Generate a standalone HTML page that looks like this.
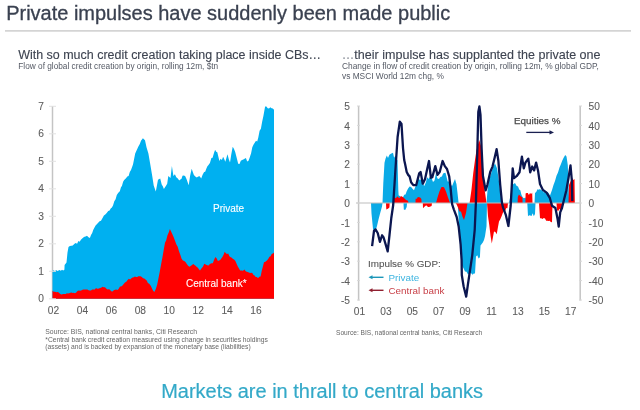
<!DOCTYPE html>
<html><head><meta charset="utf-8"><style>
html,body{margin:0;padding:0;background:#fff;}
body{width:640px;height:410px;overflow:hidden;position:relative;font-family:"Liberation Sans",sans-serif;}
svg{position:absolute;left:0;top:0;filter:blur(0.55px);}
svg text{font-family:"Liberation Sans",sans-serif;}
.ax{font-size:10.2px;fill:#5E5E5E;stroke:#5E5E5E;stroke-width:0.1px;}
.wl{font-size:10px;fill:#fff;stroke:#fff;stroke-width:0.1px;}
.lg{font-size:9.85px;}
</style></head><body>
<svg width="640" height="410" viewBox="0 0 640 410">
<text x="6.2" y="20" style="font-size:19.98px" fill="#3A4150" stroke="#3A4150" stroke-width="0.3">Private impulses have suddenly been made public</text>
<line x1="5" y1="30.8" x2="631" y2="30.8" stroke="#D4D4D4" stroke-width="1.7"/>
<text x="18.2" y="58.8" style="font-size:12.47px" fill="#3D4350" stroke="#3D4350" stroke-width="0.12">With so much credit creation taking place inside CBs…</text>
<text x="18.3" y="68.8" style="font-size:8.28px" fill="#555A65">Flow of global credit creation by origin, rolling 12m, $tn</text>
<text x="341.8" y="58.8" style="font-size:12.55px" fill="#3D4350" stroke="#3D4350" stroke-width="0.12"><tspan fill="#8A8F99" stroke="#8A8F99">…</tspan>their impulse has supplanted the private one</text>
<text x="342" y="68.8" style="font-size:8.35px" fill="#555A65">Change in flow of credit creation by origin, rolling 12m, % global GDP,</text>
<text x="342" y="78.8" style="font-size:8.35px" fill="#555A65">vs MSCI World 12m chg, %</text>
<line x1="52.5" y1="106" x2="52.5" y2="299" stroke="#C4C4C4" stroke-width="1.5"/>
<polygon points="52.5,298.8 52.5,270.7 53.7,270.3 54.9,271.3 56.1,270.1 57.3,271.0 58.5,270.6 59.6,269.9 60.8,270.8 62.0,269.8 63.2,270.6 64.4,269.8 64.6,264.9 66.5,262.6 67.5,252.4 68.5,247.0 69.9,246.1 71.4,245.8 72.8,245.4 74.2,244.0 75.7,243.1 77.1,243.7 78.4,240.9 79.7,241.8 80.9,239.8 82.2,238.6 83.3,237.4 84.5,236.7 85.6,236.6 87.0,235.8 88.5,237.2 89.9,237.9 91.0,235.1 92.2,233.1 93.3,229.8 94.5,227.6 95.6,225.6 96.8,224.3 98.2,222.7 99.6,221.3 101.0,220.7 102.4,218.2 103.9,215.6 105.3,214.4 106.7,213.0 108.2,210.9 109.6,210.4 110.7,208.6 111.9,207.6 113.0,205.6 114.3,201.2 115.6,199.2 116.8,194.9 118.1,193.0 119.8,191.3 120.9,187.5 122.0,185.7 123.1,181.8 124.2,180.1 126.0,178.3 127.3,176.6 128.6,176.0 129.8,172.1 131.0,170.1 133.0,164.5 135.2,153.5 137.0,149.6 138.5,146.3 139.8,144.1 141.0,140.7 142.9,138.3 145.0,140.3 146.5,147.2 148.4,153.6 150.0,162.8 152.2,175.8 153.7,185.4 155.8,191.6 158.0,179.7 160.2,178.5 161.7,184.6 162.8,186.3 163.9,189.1 166.0,185.8 167.2,183.7 168.3,175.9 170.5,177.9 171.9,166.0 173.4,176.0 174.9,174.2 176.3,177.3 177.8,178.4 179.2,180.6 180.3,179.6 181.4,179.0 182.5,175.8 183.6,175.6 185.1,176.1 186.5,179.1 188.7,185.3 190.2,175.3 191.7,168.8 192.8,172.0 193.9,174.9 195.3,176.4 196.8,177.4 198.2,176.5 199.7,176.2 201.2,178.6 202.6,174.8 204.1,172.0 205.2,171.7 206.3,168.8 207.4,166.3 208.5,164.9 209.9,162.9 211.4,158.1 212.6,157.7 213.9,153.3 215.1,149.8 216.2,151.7 217.3,152.2 219.4,161.0 220.6,158.8 221.9,160.0 223.1,156.7 224.2,158.9 225.3,161.7 227.5,154.2 228.8,159.3 230.0,162.5 231.3,154.2 232.7,146.7 233.9,148.7 235.2,151.9 237.0,159.0 238.2,163.8 239.5,164.0 240.8,160.8 242.1,159.9 243.3,159.5 244.6,158.7 245.9,158.1 247.2,161.5 248.5,160.8 249.8,157.3 251.1,153.2 252.3,147.3 253.6,144.4 254.9,142.4 256.0,140.7 257.2,141.6 258.3,137.4 259.6,130.8 260.9,128.7 262.1,122.0 263.4,116.1 265.1,106.6 266.4,106.4 267.7,108.3 269.0,108.4 270.3,107.3 271.6,108.2 272.8,108.6 274.0,109.7 274.0,298.8" fill="#00B0F0"/>
<polygon points="52.5,298.8 52.5,290.7 53.7,291.8 55.0,291.7 56.2,292.3 57.5,292.1 58.7,292.4 60.0,293.7 61.2,294.4 62.3,294.2 63.5,294.1 64.6,294.0 65.7,293.9 66.9,293.2 68.0,293.5 69.2,293.2 70.3,292.7 71.5,292.6 72.7,292.9 73.8,292.7 75.0,293.3 76.2,292.6 77.5,290.9 78.7,290.6 80.0,290.7 81.2,290.6 82.5,289.8 83.7,289.6 85.0,289.6 86.2,289.6 87.4,289.6 88.6,290.2 89.8,290.6 91.0,290.5 92.2,289.6 93.5,289.6 94.8,289.4 96.0,288.1 97.1,288.7 98.2,288.8 99.3,288.3 100.4,288.0 101.5,287.4 102.6,286.7 103.7,287.3 105.0,287.3 106.2,288.5 107.5,289.4 108.8,289.2 110.0,289.8 111.2,291.2 112.5,291.5 113.8,290.3 115.0,289.8 116.2,289.4 117.5,290.0 118.7,288.7 120.0,286.6 121.2,286.4 122.5,285.5 123.7,283.9 125.0,282.4 126.3,281.7 127.6,280.0 128.9,278.8 130.1,279.4 131.4,278.3 132.6,277.4 133.8,277.2 134.9,276.5 136.1,277.1 137.2,277.1 138.3,276.2 139.5,276.3 140.6,276.3 141.8,277.0 143.1,278.2 144.3,278.4 145.5,279.4 146.7,280.5 147.9,283.0 149.2,283.7 150.4,285.3 151.7,287.8 153.0,290.5 154.3,292.1 155.8,288.9 157.2,284.4 158.5,277.9 159.8,271.4 161.1,264.2 162.4,257.6 163.7,250.1 165.0,242.7 166.2,240.2 167.4,235.6 168.7,232.4 169.9,229.1 171.2,231.8 172.5,234.4 173.8,237.6 175.1,240.9 176.4,244.5 177.7,246.7 179.0,251.3 180.3,254.7 181.6,258.7 182.9,260.4 184.2,261.0 185.5,262.1 186.8,264.0 188.1,265.8 189.4,266.7 190.7,266.0 192.0,264.9 193.3,263.9 194.5,265.1 195.6,265.8 196.8,266.9 197.9,267.8 199.1,269.4 200.0,270.4 201.4,268.6 202.9,266.7 204.3,263.8 205.7,264.5 207.1,265.3 208.5,265.5 209.9,263.9 211.4,263.3 212.8,263.2 214.1,259.7 215.4,256.9 216.7,258.4 217.9,260.9 219.0,260.5 220.2,260.1 221.3,258.5 222.4,257.0 223.6,254.7 224.7,251.7 225.9,253.3 227.0,254.0 228.2,253.5 229.4,256.2 230.7,257.2 231.8,257.8 233.0,259.1 234.1,259.5 235.4,261.1 236.7,264.0 237.8,266.4 239.0,268.5 240.1,270.6 241.5,270.4 243.0,270.7 244.4,269.4 245.5,271.0 246.7,271.7 247.8,272.0 248.9,272.5 250.1,272.9 251.2,272.7 252.3,272.9 253.5,275.0 254.6,275.6 255.7,277.0 256.9,276.9 258.0,278.3 259.3,276.7 260.6,276.4 261.7,271.1 262.9,266.4 264.0,262.3 265.4,261.8 266.9,260.6 268.3,258.7 269.4,256.8 270.6,256.2 271.7,254.0 273.4,253.3 274.0,252.4 274.0,298.8" fill="#FF0000"/>
<line x1="49" y1="298.8" x2="56" y2="298.8" stroke="#E2E2E2" stroke-width="1"/>
<text x="44" y="302.0" text-anchor="end" class="ax">0</text>
<line x1="49" y1="271.3" x2="56" y2="271.3" stroke="#E2E2E2" stroke-width="1"/>
<text x="44" y="274.5" text-anchor="end" class="ax">1</text>
<line x1="49" y1="243.8" x2="56" y2="243.8" stroke="#E2E2E2" stroke-width="1"/>
<text x="44" y="247.0" text-anchor="end" class="ax">2</text>
<line x1="49" y1="216.3" x2="56" y2="216.3" stroke="#E2E2E2" stroke-width="1"/>
<text x="44" y="219.5" text-anchor="end" class="ax">3</text>
<line x1="49" y1="188.8" x2="56" y2="188.8" stroke="#E2E2E2" stroke-width="1"/>
<text x="44" y="192.0" text-anchor="end" class="ax">4</text>
<line x1="49" y1="161.3" x2="56" y2="161.3" stroke="#E2E2E2" stroke-width="1"/>
<text x="44" y="164.5" text-anchor="end" class="ax">5</text>
<line x1="49" y1="133.8" x2="56" y2="133.8" stroke="#E2E2E2" stroke-width="1"/>
<text x="44" y="137.0" text-anchor="end" class="ax">6</text>
<line x1="49" y1="106.3" x2="56" y2="106.3" stroke="#E2E2E2" stroke-width="1"/>
<text x="44" y="109.5" text-anchor="end" class="ax">7</text>
<text x="53.5" y="314" text-anchor="middle" class="ax">02</text>
<text x="82.4" y="314" text-anchor="middle" class="ax">04</text>
<text x="111.4" y="314" text-anchor="middle" class="ax">06</text>
<text x="140.3" y="314" text-anchor="middle" class="ax">08</text>
<text x="169.2" y="314" text-anchor="middle" class="ax">10</text>
<text x="198.2" y="314" text-anchor="middle" class="ax">12</text>
<text x="227.1" y="314" text-anchor="middle" class="ax">14</text>
<text x="256.0" y="314" text-anchor="middle" class="ax">16</text>
<text x="213" y="211.6" class="wl">Private</text>
<text x="186" y="287" class="wl">Central bank*</text>
<polygon points="382.5,203.0 383.3,183.1 384.5,162.8 385.5,158.7 386.8,155.6 388.0,157.9 389.4,154.8 390.9,153.7 393.0,152.8 394.1,157.7 395.3,155.7 397.5,160.6 398.3,189.8 398.6,195.3 400.1,196.2 401.6,197.9 403.0,197.3 404.2,194.7 405.5,194.6 406.7,191.3 408.1,188.5 409.6,186.5 411.1,187.0 412.5,188.7 414.0,190.2 415.5,186.2 416.9,184.3 418.4,178.4 419.9,180.0 421.4,179.3 422.9,183.7 424.3,185.9 425.8,182.6 427.2,177.2 428.6,178.9 430.1,176.6 431.6,177.9 433.0,182.1 434.5,180.5 436.0,173.2 437.4,178.5 438.9,179.0 440.4,177.1 441.9,176.4 443.1,173.5 444.3,173.0 445.5,172.8 447.7,181.4 449.9,181.5 451.0,185.1 452.1,185.9 453.5,182.6 455.0,178.9 456.5,184.3 457.5,193.0 458.6,203.0" fill="#0AAAE6"/>
<polygon points="486.5,203.0 487.5,190.4 489.0,180.1 491.0,174.1 493.0,166.9 495.0,163.5 497.0,168.2 499.0,181.5 500.5,194.6 501.5,203.0" fill="#0AAAE6"/>
<polygon points="509.0,203.0 510.5,195.8 512.0,185.0 513.5,183.9 515.0,183.1 516.5,185.8 518.0,186.5 519.2,189.4 520.3,190.3 521.5,195.0 522.8,197.6 524.0,198.2 525.5,197.4 527.0,201.0 527.5,203.0" fill="#0AAAE6"/>
<polygon points="534.5,203.0 535.0,193.0 536.2,192.0 537.5,189.2 538.8,189.7 540.0,188.9 541.2,190.2 542.5,190.1 543.8,192.6 545.0,191.6 546.5,192.9 548.0,192.2 550.0,195.6 552.0,190.0 553.5,184.9 555.0,181.1 556.5,175.8 558.0,172.4 559.5,167.6 561.0,164.1 562.2,160.7 563.5,158.0 565.2,154.9 566.5,156.5 567.8,165.2 568.8,192.1 569.2,203.0" fill="#0AAAE6"/>
<polygon points="371.0,203.0 371.5,213.5 373.0,229.0 375.0,232.6 377.0,226.0 378.5,219.5 380.0,213.7 382.0,206.6 382.5,203.0" fill="#0AAAE6"/>
<polygon points="403.5,203.0 403.8,209.6 405.2,210.0 406.7,207.0 407.0,203.0" fill="#0AAAE6"/>
<polygon points="457.7,203.0 459.0,225.1 460.5,250.0 462.0,265.5 463.5,268.3 465.0,271.4 466.5,271.7 468.0,274.4 469.5,273.2 471.0,272.9 472.5,274.8 473.8,273.4 475.0,273.4 476.0,256.4 477.3,255.3 478.6,258.5 479.9,257.3 480.5,245.6 481.7,243.9 482.8,242.5 484.0,240.0 485.0,236.3 486.5,226.3 487.0,203.0" fill="#0AAAE6"/>
<polygon points="527.3,203.0 528.0,216.3 529.2,215.2 530.3,215.4 531.5,215.9 532.7,213.3 533.8,216.2 535.0,214.1 535.5,203.0" fill="#0AAAE6"/>
<polygon points="393.0,203.0 393.5,197.7 394.8,197.5 396.0,198.2 397.2,196.3 398.4,197.5 399.7,197.9 400.9,196.1 402.4,196.7 404.0,197.9 406.0,200.1 408.0,200.8 408.5,203.0" fill="#FF0000"/>
<polygon points="415.5,203.0 415.6,198.7 416.8,198.7 417.9,197.0 419.1,197.2 420.2,197.6 421.4,199.0 421.6,203.0" fill="#FF0000"/>
<polygon points="436.0,203.0 437.5,197.4 439.5,191.2 441.5,187.0 442.8,186.9 444.0,187.3 446.0,191.5 448.0,197.6 450.0,203.0" fill="#FF0000"/>
<polygon points="469.6,203.0 471.5,189.5 473.2,173.4 475.0,160.0 476.5,149.9 478.0,144.5 479.2,139.9 481.0,145.8 482.9,165.7 484.7,189.9 486.5,203.0" fill="#FF0000"/>
<polygon points="517.6,203.0 517.8,197.1 518.9,194.4 520.1,195.7 521.2,196.8 522.4,197.2 522.6,203.0" fill="#FF0000"/>
<polygon points="525.4,203.0 525.6,193.6 526.7,193.1 527.8,192.9 528.9,195.1 530.0,192.9 531.1,194.0 532.2,192.7 532.5,203.0" fill="#FF0000"/>
<polygon points="568.5,203.0 569.0,185.1 571.0,180.4 572.2,177.9 573.3,180.0 574.5,179.0 574.8,203.0" fill="#FF0000"/>
<polygon points="386.0,203.0 386.3,209.4 387.9,208.8 389.4,207.4 389.7,203.0" fill="#FF0000"/>
<polygon points="422.8,203.0 423.0,208.3 424.2,207.1 425.5,205.7 426.7,205.6 427.9,207.1 429.1,207.0 430.4,206.5 431.6,206.0 432.0,203.0" fill="#FF0000"/>
<polygon points="455.7,203.0 456.9,205.0 458.0,207.4 459.5,211.5 461.0,211.5 462.5,216.8 464.0,220.0 466.0,212.9 467.5,203.0" fill="#FF0000"/>
<polygon points="487.0,203.0 488.0,216.3 489.3,225.3 490.5,235.5 491.8,243.4 494.0,231.6 495.4,232.0 496.7,234.2 497.9,227.6 499.0,221.6 500.3,219.3 501.6,216.3 502.8,213.1 504.0,210.8 505.1,211.3 506.3,208.0 507.4,208.3 508.0,203.0" fill="#FF0000"/>
<polygon points="539.0,203.0 540.0,218.2 541.2,218.3 542.5,219.0 543.8,218.1 545.0,218.6 546.2,220.7 547.3,220.8 548.5,220.9 549.7,220.7 550.8,221.9 552.0,222.3 552.5,203.0" fill="#FF0000"/>
<polygon points="556.5,203.0 557.0,210.3 558.2,210.9 559.5,208.8 560.8,210.9 562.0,210.1 562.5,203.0" fill="#FF0000"/>
<line x1="356" y1="203" x2="580.6" y2="203" stroke="#BDBDBD" stroke-width="1"/>
<polyline points="372.1,246.2 374.0,230.9 375.5,229.4 377.7,233.0 379.9,241.8 382.1,235.3 383.6,237.5 385.8,244.8 387.7,251.4 389.5,235.0 391.3,218.0 393.2,205.0 395.4,170.0 397.6,137.0 399.8,121.6 401.5,124.0 403.0,148.0 404.2,160.0 405.2,164.6 406.7,172.0 408.2,174.9 409.6,176.4 411.1,182.2 413.3,185.1 416.2,185.1 419.2,173.4 420.6,172.0 422.8,183.7 425.0,179.3 427.2,169.0 429.0,161.0 430.9,177.8 432.3,177.1 435.3,166.1 437.5,174.9 439.7,172.0 442.6,161.0 444.8,166.1 447.0,169.0 449.2,176.4 450.6,188.1 452.1,204.2 453.8,209.3 456.7,217.0 458.7,226.8 460.6,244.4 461.6,260.0 461.8,275.0 463.6,286.3 466.2,296.6 467.9,284.6 472.2,255.6 474.7,230.0 476.0,200.0 477.4,148.0 478.3,112.0 479.4,106.5 480.5,115.0 481.6,148.0 482.9,175.7 485.6,190.3 487.4,184.8 490.2,172.0 492.5,166.6 494.7,157.4 496.6,149.2 498.4,161.0 500.2,184.8 502.0,203.0 503.0,207.4 505.9,215.2 508.4,226.0 510.7,205.5 512.7,168.4 514.0,178.2 516.6,176.2 519.5,172.3 521.9,156.7 523.8,168.4 525.4,162.6 528.3,158.7 530.2,172.3 532.2,166.5 534.1,170.4 536.1,162.6 538.0,170.4 540.0,184.0 542.9,189.9 546.6,192.7 549.9,198.2 552.0,205.8 555.4,208.0 557.6,219.0 558.7,226.7 560.2,212.4 562.0,208.0 564.1,199.3 566.3,190.5 568.5,178.0 570.5,165.4 571.8,180.0 572.3,201.0" fill="none" stroke="#0B1650" stroke-width="2.3" stroke-linejoin="round"/>
<line x1="358.6" y1="106" x2="358.6" y2="300.5" stroke="#C4C4C4" stroke-width="1.5"/>
<line x1="580.2" y1="106" x2="580.2" y2="300.5" stroke="#C4C4C4" stroke-width="1.5"/>
<line x1="357" y1="300.0" x2="360" y2="300.0" stroke="#D8D8D8" stroke-width="1"/>
<line x1="579" y1="300.0" x2="582" y2="300.0" stroke="#D8D8D8" stroke-width="1"/>
<text x="350" y="304.2" text-anchor="end" class="ax">-5</text>
<text x="588.6" y="304.2" class="ax">-50</text>
<line x1="357" y1="280.6" x2="360" y2="280.6" stroke="#D8D8D8" stroke-width="1"/>
<line x1="579" y1="280.6" x2="582" y2="280.6" stroke="#D8D8D8" stroke-width="1"/>
<text x="350" y="284.8" text-anchor="end" class="ax">-4</text>
<text x="588.6" y="284.8" class="ax">-40</text>
<line x1="357" y1="261.2" x2="360" y2="261.2" stroke="#D8D8D8" stroke-width="1"/>
<line x1="579" y1="261.2" x2="582" y2="261.2" stroke="#D8D8D8" stroke-width="1"/>
<text x="350" y="265.4" text-anchor="end" class="ax">-3</text>
<text x="588.6" y="265.4" class="ax">-30</text>
<line x1="357" y1="241.8" x2="360" y2="241.8" stroke="#D8D8D8" stroke-width="1"/>
<line x1="579" y1="241.8" x2="582" y2="241.8" stroke="#D8D8D8" stroke-width="1"/>
<text x="350" y="246.0" text-anchor="end" class="ax">-2</text>
<text x="588.6" y="246.0" class="ax">-20</text>
<line x1="357" y1="222.4" x2="360" y2="222.4" stroke="#D8D8D8" stroke-width="1"/>
<line x1="579" y1="222.4" x2="582" y2="222.4" stroke="#D8D8D8" stroke-width="1"/>
<text x="350" y="226.6" text-anchor="end" class="ax">-1</text>
<text x="588.6" y="226.6" class="ax">-10</text>
<line x1="357" y1="203.0" x2="360" y2="203.0" stroke="#D8D8D8" stroke-width="1"/>
<line x1="579" y1="203.0" x2="582" y2="203.0" stroke="#D8D8D8" stroke-width="1"/>
<text x="350" y="207.2" text-anchor="end" class="ax">0</text>
<text x="588.6" y="207.2" class="ax">0</text>
<line x1="357" y1="183.6" x2="360" y2="183.6" stroke="#D8D8D8" stroke-width="1"/>
<line x1="579" y1="183.6" x2="582" y2="183.6" stroke="#D8D8D8" stroke-width="1"/>
<text x="350" y="187.8" text-anchor="end" class="ax">1</text>
<text x="588.6" y="187.8" class="ax">10</text>
<line x1="357" y1="164.2" x2="360" y2="164.2" stroke="#D8D8D8" stroke-width="1"/>
<line x1="579" y1="164.2" x2="582" y2="164.2" stroke="#D8D8D8" stroke-width="1"/>
<text x="350" y="168.4" text-anchor="end" class="ax">2</text>
<text x="588.6" y="168.4" class="ax">20</text>
<line x1="357" y1="144.8" x2="360" y2="144.8" stroke="#D8D8D8" stroke-width="1"/>
<line x1="579" y1="144.8" x2="582" y2="144.8" stroke="#D8D8D8" stroke-width="1"/>
<text x="350" y="149.0" text-anchor="end" class="ax">3</text>
<text x="588.6" y="149.0" class="ax">30</text>
<line x1="357" y1="125.4" x2="360" y2="125.4" stroke="#D8D8D8" stroke-width="1"/>
<line x1="579" y1="125.4" x2="582" y2="125.4" stroke="#D8D8D8" stroke-width="1"/>
<text x="350" y="129.6" text-anchor="end" class="ax">4</text>
<text x="588.6" y="129.6" class="ax">40</text>
<line x1="357" y1="106.0" x2="360" y2="106.0" stroke="#D8D8D8" stroke-width="1"/>
<line x1="579" y1="106.0" x2="582" y2="106.0" stroke="#D8D8D8" stroke-width="1"/>
<text x="350" y="110.2" text-anchor="end" class="ax">5</text>
<text x="588.6" y="110.2" class="ax">50</text>
<text x="359.5" y="315" text-anchor="middle" class="ax">01</text>
<text x="385.9" y="315" text-anchor="middle" class="ax">03</text>
<text x="412.3" y="315" text-anchor="middle" class="ax">05</text>
<text x="438.7" y="315" text-anchor="middle" class="ax">07</text>
<text x="465.1" y="315" text-anchor="middle" class="ax">09</text>
<text x="491.5" y="315" text-anchor="middle" class="ax">11</text>
<text x="517.9" y="315" text-anchor="middle" class="ax">13</text>
<text x="544.3" y="315" text-anchor="middle" class="ax">15</text>
<text x="570.7" y="315" text-anchor="middle" class="ax">17</text>
<text x="368" y="267.3" class="lg" fill="#555555" stroke="#555555" stroke-width="0.1">Impulse % GDP:</text>
<line x1="371" y1="277.3" x2="383.5" y2="277.3" stroke="#1C96B8" stroke-width="1.4"/><path d="M368.5,277.3 L372.5,275.3 L372.5,279.3 Z" fill="#1C96B8"/>
<text x="388.5" y="280.6" class="lg" fill="#3CB4E0">Private</text>
<line x1="371" y1="290.3" x2="383.5" y2="290.3" stroke="#902030" stroke-width="1.4"/><path d="M368.5,290.3 L372.5,288.3 L372.5,292.3 Z" fill="#902030"/>
<text x="388.5" y="293.8" class="lg" fill="#C84048">Central bank</text>
<text x="514" y="124" class="lg" fill="#4A4A4A" stroke="#4A4A4A" stroke-width="0.25">Equities %</text>
<line x1="526.3" y1="132.4" x2="550" y2="132.4" stroke="#1A2050" stroke-width="1.3"/><path d="M554,132.4 L549.5,130.2 L549.5,134.6 Z" fill="#1A2050"/>
<text x="45.3" y="334" style="font-size:6.85px" fill="#666">Source: BIS, national central banks, Citi Research</text>
<text x="45.3" y="341.5" style="font-size:6.72px" fill="#666">*Central bank credit creation measured using change in securities holdings</text>
<text x="45.3" y="349" style="font-size:6.72px" fill="#666">(assets) and is backed by expansion of the monetary base (liabilities)</text>
<text x="336" y="334.8" style="font-size:6.6px" fill="#666">Source: BIS, national central banks, Citi Research</text>
<text x="161.2" y="398" style="font-size:19.98px" fill="#33A9C8" stroke="#33A9C8" stroke-width="0.2">Markets are in thrall to central banks</text>
</svg>
</body></html>
